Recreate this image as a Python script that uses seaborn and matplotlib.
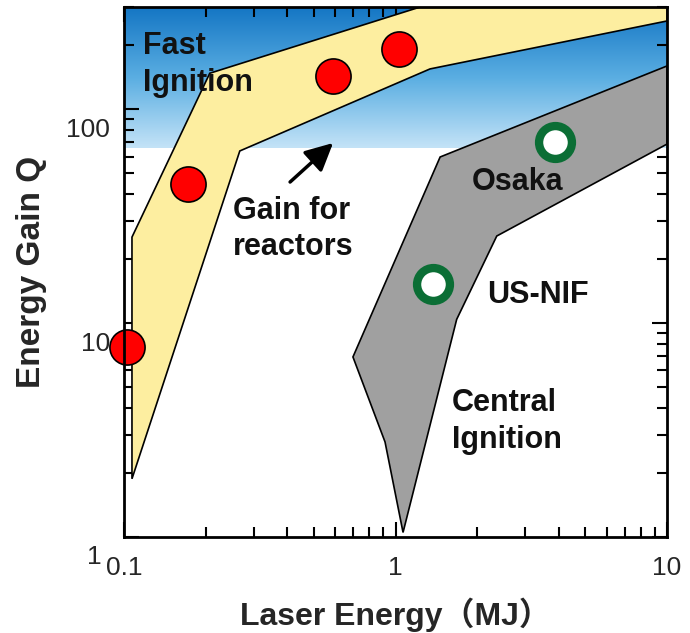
import numpy as np
import seaborn as sns
import matplotlib.pyplot as plt
import matplotlib.transforms as mtrans
from matplotlib.colors import LinearSegmentedColormap
from matplotlib.ticker import FixedLocator, LogLocator, NullFormatter, FixedFormatter

# ---- data (log-log, laser energy MJ vs gain Q) ----
fast_band_x = [0.107, 0.107, 0.207, 1.34, 10.0, 10.0, 1.34, 0.267]
fast_band_q = [1.87, 25.2, 147, 310, 405, 258, 154, 63.7]

central_band_x = [1.46, 10.0, 10.0, 2.36, 1.68, 1.066, 0.915, 0.697]
central_band_q = [59.7, 159, 68.6, 25.5, 10.4, 1.05, 2.78, 6.94]

fast_pts_x = [0.1025, 0.172, 0.589, 1.03]
fast_pts_q = [7.73, 44.6, 143, 191]

central_names = ["Osaka", "US-NIF"]
central_pts_x = [3.87, 1.37]
central_pts_q = [70.1, 15.2]

reactor_gain = 66  # lower edge of the blue "gain for reactors" zone

x_ticks = [0.1, 1, 10]
x_ticklabels = ["0.1", "1", "10"]
y_ticks = [1, 10, 100]
y_ticklabels = ["1", "10", "100"]
x_lim = (0.1, 10)
y_lim = (1, 300)

sns.set_theme(style="ticks")
plt.rcParams['font.family'] = ['Liberation Sans', 'Noto Sans CJK JP', 'DejaVu Sans']

fig = plt.figure(figsize=(6.9, 6.33), dpi=100)
ax = fig.add_axes([0.1797, 0.1517, 0.787, 0.8373])
ax.set_xscale('log')
ax.set_yscale('log')
ax.set_xlim(*x_lim)
ax.set_ylim(*y_lim)

# blue gradient above the reactor gain level
frac = np.log10(reactor_gain / y_lim[0]) / np.log10(y_lim[1] / y_lim[0])
cmap = LinearSegmentedColormap.from_list("sky", ["#c4e3f7", "#5aaee2", "#1476c4"])
grad = np.linspace(0, 1, 256).reshape(-1, 1)
ax.imshow(grad, cmap=cmap, origin='lower', aspect='auto',
          extent=[0, 1, frac, 1], transform=ax.transAxes, zorder=0)

# bands
ax.fill(fast_band_x, fast_band_q, facecolor="#fdeea0", edgecolor="black", lw=1.2, zorder=2)
ax.fill(central_band_x, central_band_q, facecolor="#a0a0a0", edgecolor="black", lw=1.2, zorder=2)

# points
sns.scatterplot(x=fast_pts_x, y=fast_pts_q, ax=ax, s=640, color="red",
                edgecolor="black", linewidth=1.2, zorder=4, clip_on=False)
sns.scatterplot(x=central_pts_x, y=central_pts_q, ax=ax, s=560, color="white",
                edgecolor="#0b6e35", linewidth=6, zorder=4)

# labels inside the plot
tkw = dict(fontsize=22, fontweight='bold', color='#111111', zorder=5)
ax.text(0.1175, 162, "Fast\nIgnition", va='center', ha='left', linespacing=1.3, **tkw)
ax.text(0.252, 27.5, "Gain for\nreactors", va='center', ha='left', linespacing=1.3, **tkw)
ax.text(1.61, 3.45, "Central\nIgnition", va='center', ha='left', linespacing=1.3, **tkw)
ax.text(1.91, 45.6, central_names[0], va='center', ha='left', **tkw)
ax.text(2.17, 13.5, central_names[1], va='center', ha='left', **tkw)

ax.annotate("", xy=(0.589, 69.4), xytext=(0.409, 45.6),
            arrowprops=dict(arrowstyle="-|>,head_length=1.4,head_width=0.7",
                            color="black", lw=2.5, shrinkA=0, shrinkB=0), zorder=5)

# axes, ticks
ax.xaxis.set_major_locator(FixedLocator(x_ticks))
ax.xaxis.set_major_formatter(FixedFormatter(x_ticklabels))
ax.yaxis.set_major_locator(FixedLocator(y_ticks))
ax.yaxis.set_major_formatter(FixedFormatter(y_ticklabels))
for axis in (ax.xaxis, ax.yaxis):
    axis.set_minor_locator(LogLocator(base=10, subs=np.arange(2, 10)))
    axis.set_minor_formatter(NullFormatter())
ax.tick_params(which='both', direction='in', top=True, right=True, width=1.5, color='black')
ax.tick_params(which='major', length=11)
ax.tick_params(which='minor', length=7)
ax.tick_params(axis='x', which='major', labelsize=19, pad=14)
ax.tick_params(axis='y', which='major', labelsize=19, pad=10)
for sp in ax.spines.values():
    sp.set_linewidth(2)
    sp.set_color('black')
    sp.set_zorder(6)

ax.set_xlabel("Laser Energy（MJ）", fontsize=23, fontweight='bold', labelpad=12)
ax.set_ylabel("Energy Gain Q", fontsize=24, fontweight='bold', labelpad=14)

# y tick labels in the original sit a little below their ticks
for i, t in enumerate(ax.yaxis.get_major_ticks()):
    dx = -0.08 if i == 0 else 0
    t.label1.set_transform(t.label1.get_transform() +
                           mtrans.ScaledTranslation(dx, -0.18, fig.dpi_scale_trans))

fig.savefig("out.png", dpi=100)
